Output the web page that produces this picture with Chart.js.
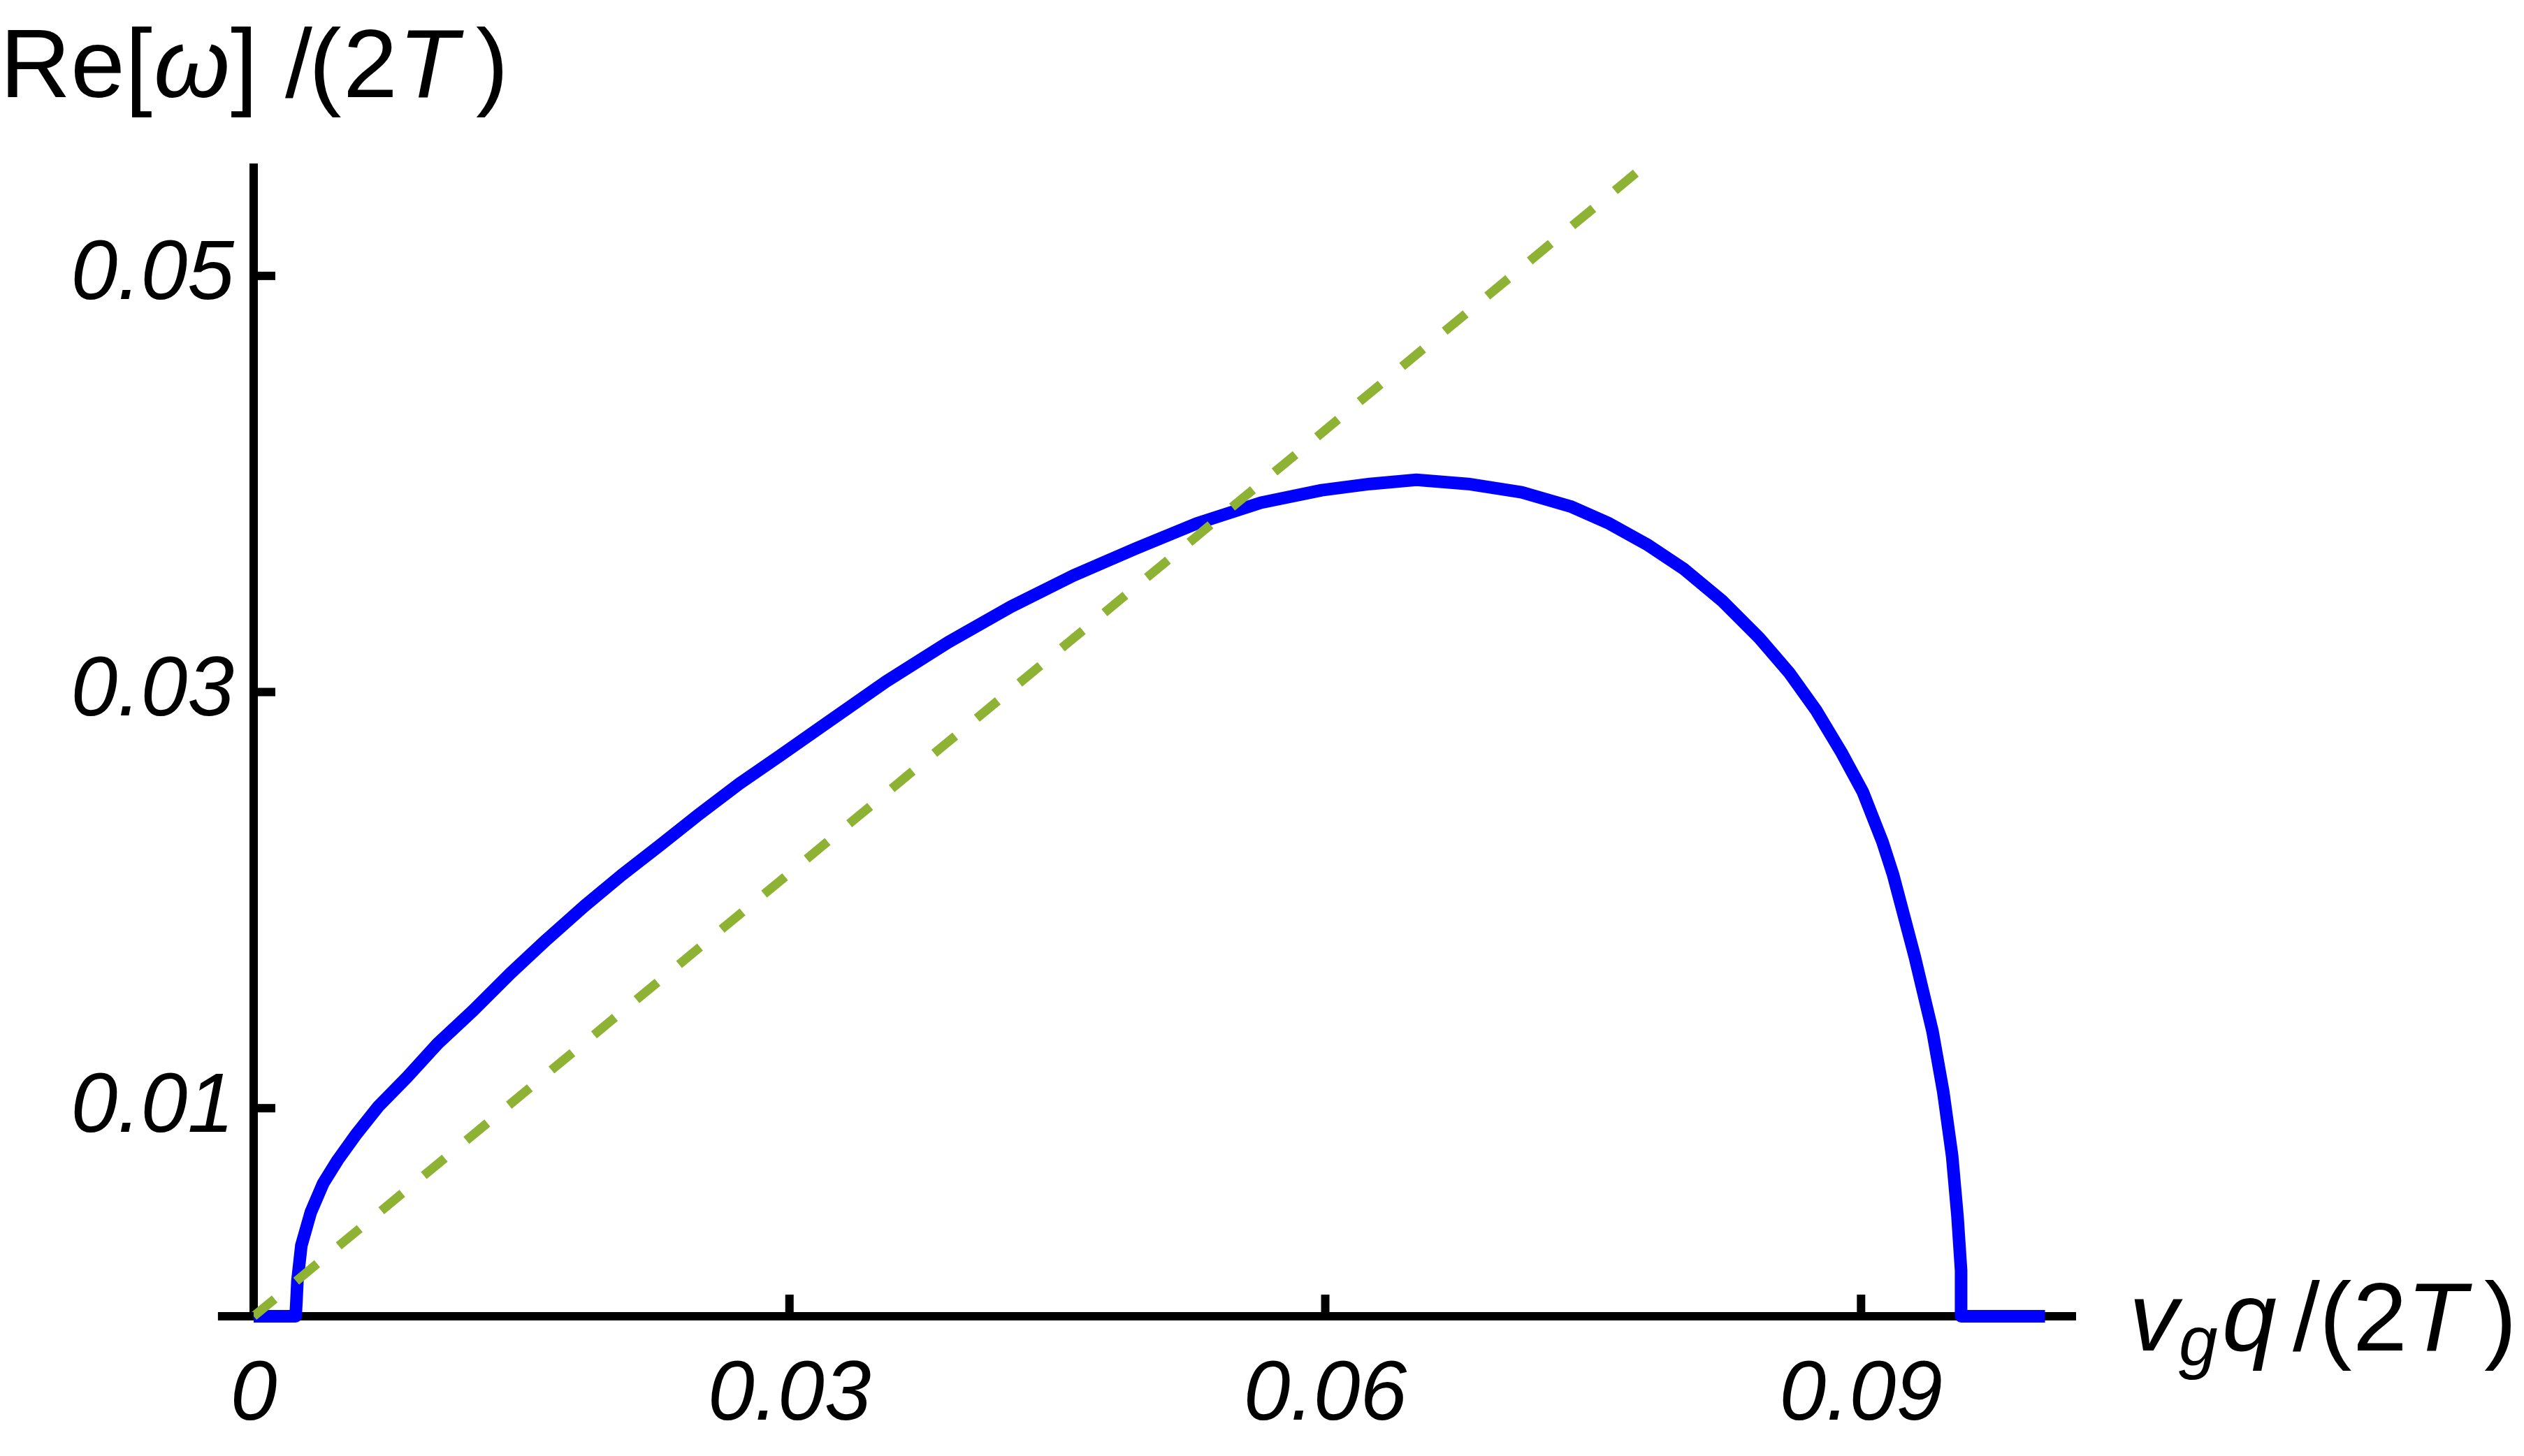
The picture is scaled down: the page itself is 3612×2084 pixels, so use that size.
<!DOCTYPE html>
<html>
<head>
<meta charset="utf-8">
<script src="https://cdn.jsdelivr.net/npm/chart.js@4"></script>
<style>
  html, body { margin: 0; padding: 0; background: #fff; }
  #wrap { width: 3612px; height: 2084px; position: relative; }
</style>
</head>
<body>
<div id="wrap"><canvas id="chart-dispersion"></canvas></div>
<script>
/* Re[omega]/(2T) against v_g q/(2T): blue curve plus a dashed green reference line */

var X_TICKS = [0, 0.03, 0.06, 0.09];
var X_TICK_LABELS = ['0', '0.03', '0.06', '0.09'];
var Y_TICKS = [0.01, 0.03, 0.05];
var Y_TICK_LABELS = ['0.01', '0.03', '0.05'];

/* blue curve */
var CURVE_X = [0, 0.00235, 0.00240, 0.00245, 0.00267, 0.0032, 0.0039, 0.0047, 0.0057, 0.0070,
  0.0086, 0.0103, 0.0123, 0.0144, 0.0164, 0.0185, 0.0206, 0.0227, 0.0249, 0.0272,
  0.0294, 0.0319, 0.0354, 0.0389, 0.0424, 0.0459, 0.0494, 0.0528, 0.0564, 0.0598,
  0.0625, 0.0651, 0.0680, 0.0710, 0.0738, 0.0759, 0.0780, 0.0801, 0.0822, 0.0843,
  0.0860, 0.0875, 0.0889, 0.0901, 0.0912, 0.0918, 0.0930, 0.0940, 0.0946, 0.0951,
  0.0954, 0.0956, 0.0956, 0.1003];
var CURVE_Y = [0, 0, 0.0008, 0.0017, 0.0034, 0.0050, 0.0064, 0.0075, 0.0087, 0.0101,
  0.0115, 0.0131, 0.0147, 0.0165, 0.0181, 0.0197, 0.0212, 0.0226, 0.0241, 0.0256,
  0.0269, 0.0284, 0.0305, 0.0324, 0.0341, 0.0356, 0.0369, 0.0381, 0.0391, 0.0397,
  0.0400, 0.0402, 0.0400, 0.0396, 0.0389, 0.0381, 0.0371, 0.0359, 0.0344, 0.0326,
  0.0309, 0.0291, 0.0271, 0.0252, 0.0228, 0.0212, 0.0173, 0.0137, 0.0108, 0.0077,
  0.0048, 0.0022, 0, 0];

/* dashed straight line from the origin */
var LINE_X = [0, 0.0779];
var LINE_Y = [0, 0.0553];

var X_AXIS_START = -0.002;
var X_MAX = 0.102;
var Y_MAX = 0.0552;

var BLUE = '#0000FF';
var GREEN = '#8DB234';
var AXIS_W = 12;
var TICK_LEN = 31;

function zip(xs, ys) {
  return xs.map(function(x, i) { return { x: x, y: ys[i] }; });
}

/* axis titles: pieces of [text, italic, x, size, baseline] */
var Y_TITLE = [
  ['Re[', false, 0, 140, 139], ['\u03c9', true, 220, 140, 139], [']', false, 330, 140, 139],
  ['/', false, 408, 140, 139], ['(', false, 442, 140, 139], ['2', false, 491, 140, 139],
  ['T', true, 570, 140, 139], [')', false, 681, 140, 139]
];
var X_TITLE = [
  ['v', true, 3047, 140, 1933], ['g', true, 3118, 100, 1954], ['q', true, 3180, 140, 1933],
  ['/', false, 3281, 140, 1933], ['(', false, 3319, 140, 1933], ['2', false, 3367, 140, 1933],
  ['T', true, 3444, 140, 1933], [')', false, 3555, 140, 1933]
];

var axisDecor = {
  id: 'axisDecor',
  afterDraw: function(chart) {
    var ctx = chart.ctx;
    var xs = chart.scales.x;
    var ys = chart.scales.y;
    var x0 = xs.getPixelForValue(0);
    var y0 = ys.getPixelForValue(0);

    ctx.save();
    ctx.strokeStyle = '#000';
    ctx.lineWidth = AXIS_W;
    ctx.lineCap = 'butt';

    /* short piece of the horizontal axis left of the vertical one */
    ctx.beginPath();
    ctx.moveTo(xs.getPixelForValue(X_AXIS_START), y0);
    ctx.lineTo(x0, y0);
    ctx.stroke();

    /* ticks point into the plot */
    X_TICKS.forEach(function(v) {
      if (v === 0) return;
      var px = xs.getPixelForValue(v);
      ctx.beginPath();
      ctx.moveTo(px, y0);
      ctx.lineTo(px, y0 - TICK_LEN);
      ctx.stroke();
    });
    Y_TICKS.forEach(function(v) {
      var py = ys.getPixelForValue(v);
      ctx.beginPath();
      ctx.moveTo(x0, py);
      ctx.lineTo(x0 + TICK_LEN, py);
      ctx.stroke();
    });

    ctx.fillStyle = '#000';
    ctx.textBaseline = 'alphabetic';
    ctx.textAlign = 'left';
    Y_TITLE.concat(X_TITLE).forEach(function(p) {
      ctx.font = (p[1] ? 'italic ' : '') + p[3] + 'px "Liberation Sans", Arial, sans-serif';
      ctx.fillText(p[0], p[2], p[4]);
    });
    ctx.restore();
  }
};

var tickFont = { family: '"Liberation Sans", Arial, sans-serif', size: 120, style: 'italic', lineHeight: 1.2 };

new Chart(document.getElementById('chart-dispersion').getContext('2d'), {
  type: 'scatter',
  data: {
    datasets: [
      {
        label: 'Re[w]/(2T)',
        data: zip(CURVE_X, CURVE_Y),
        showLine: true,
        borderColor: BLUE,
        borderWidth: 18,
        borderCapStyle: 'butt',
        borderJoinStyle: 'round',
        pointRadius: 0,
        clip: false,
        order: 1
      },
      {
        label: 'linear',
        data: zip(LINE_X, LINE_Y),
        showLine: true,
        borderColor: GREEN,
        borderWidth: 13,
        borderDash: [39, 40],
        borderCapStyle: 'butt',
        pointRadius: 0,
        clip: false,
        order: 0
      }
    ]
  },
  options: {
    responsive: true,
    maintainAspectRatio: false,
    animation: false,
    events: [],
    layout: { padding: { left: 0, top: 240, right: 642, bottom: 0 } },
    scales: {
      x: {
        type: 'linear',
        position: 'bottom',
        min: 0,
        max: X_MAX,
        z: 1,
        afterBuildTicks: function(scale) {
          scale.ticks = X_TICKS.map(function(v) { return { value: v }; });
        },
        afterFit: function(scale) { scale.height = 200; },
        grid: { display: false, drawTicks: false },
        border: { display: true, color: '#000', width: AXIS_W },
        ticks: {
          padding: 43,
          autoSkip: false,
          maxRotation: 0,
          color: '#000',
          font: tickFont,
          callback: function(value, index) { return X_TICK_LABELS[index]; }
        }
      },
      y: {
        type: 'linear',
        position: 'left',
        min: 0,
        max: Y_MAX,
        z: 1,
        afterBuildTicks: function(scale) {
          scale.ticks = Y_TICKS.map(function(v) { return { value: v }; });
        },
        afterFit: function(scale) { scale.width = 363; },
        grid: { display: false, drawTicks: false },
        border: { display: true, color: '#000', width: AXIS_W },
        ticks: {
          padding: 28,
          autoSkip: false,
          color: '#000',
          font: tickFont,
          callback: function(value, index) { return Y_TICK_LABELS[index]; }
        }
      }
    },
    plugins: {
      legend: { display: false },
      tooltip: { enabled: false }
    }
  },
  plugins: [axisDecor]
});
</script>
</body>
</html>
